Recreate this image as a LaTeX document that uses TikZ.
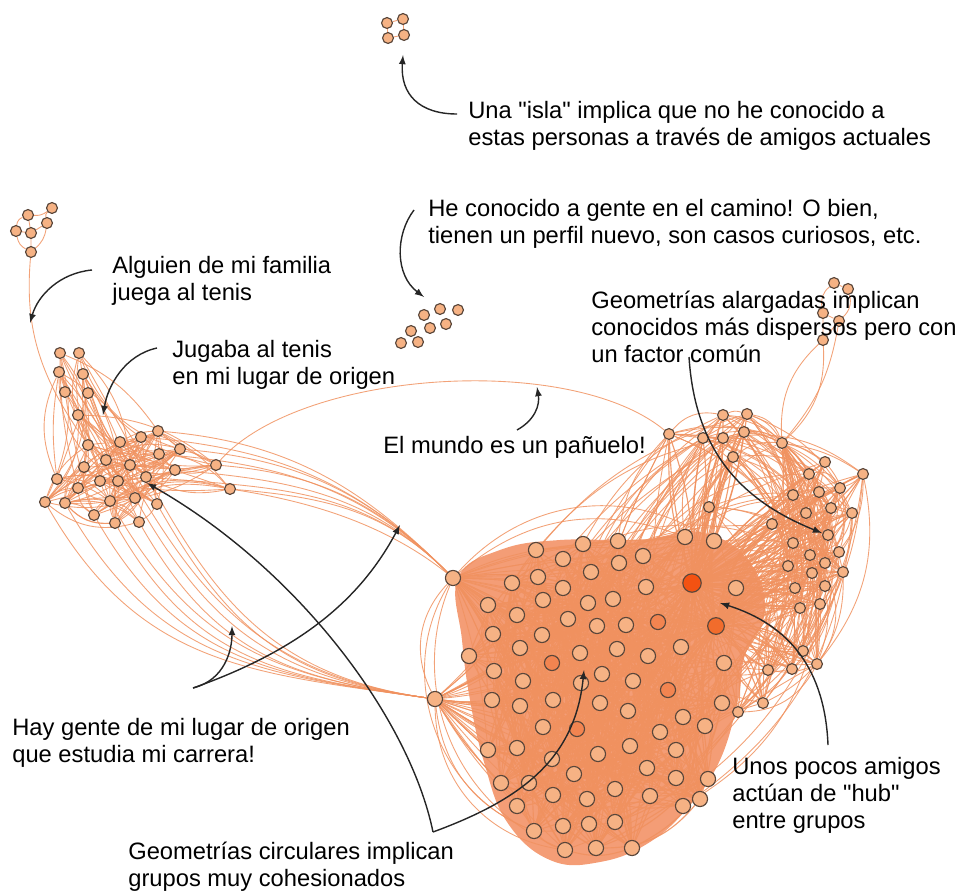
\documentclass[tikz,border=0pt]{standalone}
\usepackage{fontspec}
\setmainfont{Liberation Sans}[Ligatures=TeXOff]
\usepackage{xcolor}
\usetikzlibrary{arrows, positioning, calc, backgrounds}

\definecolor{edgeor}{RGB}{240,146,96}
\definecolor{bloborange}{RGB}{241,132,84}
\definecolor{nodefill}{RGB}{246,178,132}
\definecolor{nodeline}{RGB}{90,70,58}
\definecolor{midor}{RGB}{242,132,80}
\definecolor{hubred}{RGB}{243,82,18}
\definecolor{hubor}{RGB}{241,108,44}

\tikzset{
  smalldot/.style={circle, draw=nodeline, fill=nodefill, line width=0.65pt, inner sep=0pt, minimum size=6.2pt},
  bigdot/.style={smalldot, minimum size=8.6pt},
  middot/.style={bigdot, fill=midor},
  hub/.style={smalldot, minimum size=10.5pt, fill=hubred},
  edge/.style={draw=edgeor, line width=0.5pt, opacity=0.85},
  dense/.style={edge, line width=0.65pt, opacity=0.9},
  note/.style={anchor=west, align=left, inner sep=0pt, font=\fontsize{13.5}{15.3}\selectfont},
  callout/.style={->, >=latex, line width=0.8pt, black!85}
}

\begin{document}
\begin{tikzpicture}[x=0.02cm, y=-0.02cm]
\useasboundingbox (0,0) rectangle (959,892);

% islands
\foreach \x/\y [count=\i] in {387/23, 403/19, 388/38, 404/35}
  \node[smalldot] (i\i) at (\x,\y) {};
\foreach \x/\y [count=\i] in {458/310, 440/309, 424/315, 446/324, 430/328, 411/331, 418/342, 401/343}
  \node[smalldot] (m\i) at (\x,\y) {};

% family / tennis
\foreach \x/\y [count=\i] in {52/208, 28/215, 47/223, 16/231, 31/233, 31/252}
  \node[smalldot] (f\i) at (\x,\y) {};

% home town cluster
\foreach \x/\y [count=\i] in {88/445, 120/442, 141/437, 158/431, 180/449, 106/460, 84/467, 130/465,
    159/454, 175/470, 216/465, 57/479, 78/488, 100/481, 118/481, 146/477, 45/502, 65/503, 110/501,
    135/498, 157/504, 230/489, 94/515, 115/523, 139/522, 60/353, 79/353, 59/372, 83/374, 65/392,
    88/393, 78/415}
  \node[smalldot] (l\i) at (\x,\y) {};

% big cluster
\foreach \x/\y [count=\i] in {536/550, 583/544, 618/541, 563/559, 643/556, 685/537, 714/541, 512/583,
    538/577, 591/572, 619/563, 646/587, 736/588, 488/605, 543/600, 563/588, 588/603, 613/599,
    517/615, 568/619, 597/626, 626/625, 493/634, 542/635, 520/648, 580/653, 617/649, 648/656,
    681/647, 469/656, 494/671, 602/674, 724/663, 523/681, 581/683, 633/681, 492/700, 520/706,
    553/700, 600/703, 628/711, 722/703, 683/717, 543/727, 705/726, 660/732, 488/750, 517/748,
    552/759, 598/754, 630/746, 676/750, 574/774, 647/768, 501/783, 529/783, 676/778, 708/779,
    553/795, 587/799, 615/789, 650/796, 683/806, 700/799, 517/806, 534/831, 563/826, 589/824,
    615/822, 565/850, 596/848, 632/848}
  \node[bigdot] (b\i) at (\x,\y) {};
\foreach \x/\y [count=\i] in {658/622, 552/663, 668/690, 577/729}
  \node[middot] (d\i) at (\x,\y) {};
\node[hub] (hubA) at (692,583) {};
\node[hub, fill=hubor, minimum size=9.5pt] (hubB) at (716,626) {};
\node[bigdot] (gateA) at (453,578) {};
\node[bigdot] (gateB) at (435,699) {};

% right cluster
\foreach \x/\y [count=\i] in {772/524, 828/535, 793/543, 839/552, 810/555, 825/563, 788/566, 843/572,
    812/573, 795/588, 825/586, 800/608, 820/604, 803/651, 817/664, 768/670, 792/669, 763/703,
    738/712, 825/462, 809/474, 863/474, 840/488, 793/495, 819/492, 831/508, 852/513, 806/513}
  \node[smalldot] (r\i) at (\x,\y) {};

% upper group
\foreach \x/\y [count=\i] in {669/434, 723/415, 747/414, 703/438, 723/438, 744/432, 733/457, 709/507}
  \node[smalldot] (u\i) at (\x,\y) {};
\node[smalldot] (link) at (782,443) {};
\foreach \x/\y [count=\i] in {834/283, 848/289, 823/313, 839/321, 823/340}
  \node[smalldot] (k\i) at (\x,\y) {};

\begin{pgfonlayer}{background}
  \fill[bloborange, opacity=0.8] plot[smooth cycle, tension=0.7] coordinates {(458,578) (500,550) (560,540)
    (640,540) (700,532) (748,560) (765,610) (745,655) (738,700) (720,760) (690,805) (650,842)
    (600,862) (550,860) (507,822) (484,762) (470,700) (462,640)};
  \pgfmathsetseed{11}
  % big cluster
  \foreach \k in {1,...,560}{
    \pgfmathtruncatemacro{\pa}{random(1,72)}
    \pgfmathtruncatemacro{\pb}{random(1,72)}
    \pgfmathtruncatemacro{\bd}{random(-35,35)}
    \ifnum\pa=\pb\else \draw[dense] (b\pa) to[bend left=\bd] (b\pb); \fi
  }
  \foreach \k in {1,...,4}{
    \foreach \j in {1,...,6}{
      \pgfmathtruncatemacro{\pa}{random(1,72)}
      \draw[dense] (d\k) to[bend left=15] (b\pa);
    }
  }
  \foreach \k in {1,...,50}{
    \pgfmathtruncatemacro{\pa}{random(1,72)}
    \pgfmathtruncatemacro{\pb}{random(1,72)}
    \draw[dense] (hubA) to[bend left=12] (b\pa);
    \draw[dense] (hubB) to[bend right=12] (b\pb);
  }
  \foreach \k in {1,...,40}{
    \pgfmathtruncatemacro{\pa}{random(1,72)}
    \pgfmathtruncatemacro{\pb}{random(1,72)}
    \draw[edge] (gateA) to[bend left=6] (b\pa);
    \draw[edge] (gateB) to[bend right=6] (b\pb);
  }
  \draw[edge] (gateA) to[bend right=35] (gateB);
  \draw[edge] (gateA) to[bend right=50] (b66);
  \draw[edge] (gateA) to[bend right=45] (b70);
  \draw[edge] (gateB) to[bend right=40] (b70);
  \draw[edge] (gateB) to[bend right=30] (b66);
  \draw[edge] (gateA) to[bend left=30] (b6);
  \draw[edge] (gateA) to[bend left=40] (b7);

  % right cluster
  \foreach \k in {1,...,120}{
    \pgfmathtruncatemacro{\pa}{random(1,28)}
    \pgfmathtruncatemacro{\pb}{random(1,28)}
    \pgfmathtruncatemacro{\bd}{random(-40,40)}
    \ifnum\pa=\pb\else \draw[edge] (r\pa) to[bend left=\bd] (r\pb); \fi
  }
  \foreach \i in {1,...,28}{
    \draw[dense] (r\i) to[bend left=15] (hubA);
    \draw[dense] (r\i) to[bend right=8] (hubA);
    \draw[dense] (r\i) to[bend right=20] (hubB);
    \draw[edge] (r\i) to[bend left=10] (hubB);
    \pgfmathtruncatemacro{\pa}{random(1,72)}
    \draw[edge] (r\i) to[bend left=25] (b\pa);
    \pgfmathtruncatemacro{\pb}{random(1,72)}
    \draw[edge] (r\i) to[bend right=25] (b\pb);
  }

  % upper group
  \foreach \i in {1,...,8}{
    \draw[dense] (u\i) to[bend left=10] (hubA);
    \draw[dense] (u\i) to[bend right=6] (hubA);
    \draw[dense] (u\i) to[bend right=15] (hubB);
    \draw[edge] (u\i) to[bend left=20] (link);
    \foreach \j in {1,...,5}{
      \pgfmathtruncatemacro{\pa}{random(1,72)}
      \pgfmathtruncatemacro{\pb}{random(1,28)}
      \draw[edge] (u\i) to[bend right=18] (b\pa);
      \draw[edge] (u\i) to[bend left=22] (r\pb);
    }
  }
  \draw[edge] (u1) to[bend left=30] (u2);
  \draw[edge] (u2) to[bend left=20] (u3);
  \draw[edge] (u1) -- (u4) -- (u5) -- (u6);
  \draw[edge] (u3) to[bend left=30] (link);
  \foreach \i in {1,...,28}{
    \draw[edge] (link) to[bend left=12] (r\i);
  }
  \draw[edge] (link) to[bend left=25] (k5);
  \draw[edge] (link) to[bend right=25] (k5);
  \draw[edge] (link) to[bend right=15] (k4);
  \draw[edge] (k1) to[bend right=30] (k3);
  \draw[edge] (k2) to[bend left=30] (k4);
  \draw[edge] (k3) -- (k4) -- (k5) -- (k3);
  \draw[edge] (k1) -- (k2);

  % home town cluster
  \foreach \k in {1,...,180}{
    \pgfmathtruncatemacro{\pa}{random(1,32)}
    \pgfmathtruncatemacro{\pb}{random(1,25)}
    \pgfmathtruncatemacro{\bd}{random(-30,30)}
    \ifnum\pa=\pb\else \draw[edge] (l\pa) to[bend left=\bd] (l\pb); \fi
  }
  \foreach \i in {3,4,5,9,10,11,22,16}{
    \draw[edge] (l\i) to[out=-5, in=135] (gateA);
  }
  \foreach \i in {17,18,19,20,21,23,24,25,26,27}{
    \draw[edge] (l\i) to[out=-60, in=172, looseness=1.1] (gateB);
  }
  \draw[edge] (l11) .. controls (300,370) and (570,352) .. (u1);
  \draw[edge] (l22) .. controls (300,500) and (380,520) .. (gateA);

  % family
  \draw[edge] (f1) to[bend right=30] (f3);
  \draw[edge] (f1) to[bend left=20] (f2);
  \draw[edge] (f2) -- (f5) -- (f6);
  \draw[edge] (f4) -- (f5);
  \draw[edge] (f3) -- (f5);
  \draw[edge] (f2) to[bend right=30] (f4);
  \draw[edge] (f3) to[bend left=20] (f6);
  \draw[edge] (f4) to[bend right=25] (f6);
  \draw[edge] (f6) to[out=-95, in=125] (l1);

  % isla
  \draw[edge] (i1) -- (i2) -- (i4) -- (i3) -- (i1);
\end{pgfonlayer}

% texts
\node[note] (islaTxt) at (468,126) {Una "isla" implica que no he conocido a\\estas personas a través de amigos actuales};
\node[note] (camTxt) at (428,224) {He conocido a gente en el camino! O bien,\\tienen un perfil nuevo, son casos curiosos, etc.};
\node[note] (famTxt) at (112,281) {Alguien de mi familia\\juega al tenis};
\node[note] (alaTxt) at (591,327) {Geometrías alargadas implican\\conocidos más dispersos pero con\\un factor común};
\node[note] (jugTxt) at (172,365) {Jugaba al tenis\\en mi lugar de origen};
\node[note] (munTxt) at (383,447) {El mundo es un pañuelo!};
\node[note] (hayTxt) at (12,743) {Hay gente de mi lugar de origen\\que estudia mi carrera!};
\node[note] (unosTxt) at (732,795) {Unos pocos amigos\\actúan de "hub"\\entre grupos};
\node[note] (cirTxt) at (128,867) {Geometrías circulares implican\\grupos muy cohesionados};

% arrows
\coordinate (islaT) at (457,114);
\coordinate (islaH) at (403,55);
\draw[callout] (islaT) .. controls (420,114) and (400,95) .. (islaH);
\coordinate (camT) at (414,210);
\coordinate (camH) at (424,297);
\draw[callout] (camT) .. controls (395,235) and (395,275) .. (camH);
\coordinate (famT) at (92,270);
\coordinate (famH) at (30,323);
\draw[callout] (famT) .. controls (60,273) and (38,295) .. (famH);
\coordinate (jugT) at (157,348);
\coordinate (jugH) at (103,415);
\draw[callout] (jugT) .. controls (125,355) and (108,385) .. (jugH);
\coordinate (munT) at (517,430);
\coordinate (munH) at (537,387);
\draw[callout] (munT) .. controls (535,420) and (540,405) .. (munH);
\coordinate (alaT) at (689,357);
\coordinate (alaH) at (822,533);
\draw[callout] (alaT) .. controls (695,450) and (740,500) .. (alaH);
\coordinate (hubT) at (828,745);
\coordinate (hubH) at (720,603);
\draw[callout] (hubT) .. controls (825,670) and (790,625) .. (hubH);
\coordinate (hayV) at (193,688);
\coordinate (hayH1) at (232,626);
\coordinate (hayH2) at (400,525);
\draw[callout] (hayV) .. controls (225,680) and (232,650) .. (hayH1);
\draw[callout] (hayV) .. controls (300,650) and (360,600) .. (hayH2);
\coordinate (cirV) at (433,832);
\coordinate (cirH1) at (147,483);
\coordinate (cirH2) at (584,670);
\draw[callout] (cirV) .. controls (410,720) and (300,570) .. (cirH1);
\draw[callout] (cirV) .. controls (520,800) and (575,760) .. (cirH2);
\end{tikzpicture}
\end{document}
